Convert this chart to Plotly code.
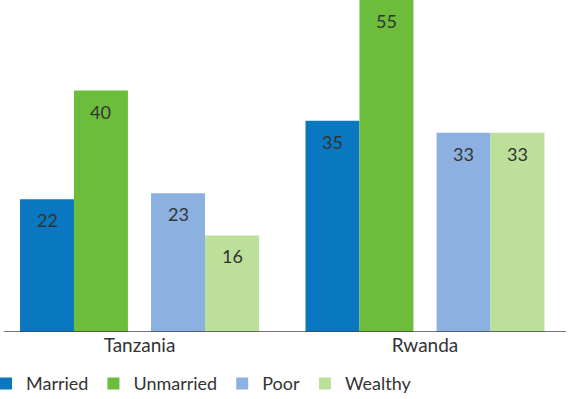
import plotly.graph_objects as go

countries = ["Tanzania", "Rwanda"]
series_names = ["Married", "Unmarried", "Poor", "Wealthy"]
married = [22, 35]
unmarried = [40, 55]
poor = [23, 33]
wealthy = [16, 33]
colors = ["#0a78c0", "#6cbd3c", "#8cb0df", "#bcdf9a"]

values = [married, unmarried, poor, wealthy]
offsets = [-0.324, -0.135, 0.135, 0.324]
bar_w = 0.189
group_x = list(range(len(countries)))

FONT = "Lato"
TXT = "#333333"

fig = go.Figure()
annotations = []
for name, vals, off, col in zip(series_names, values, offsets, colors):
    xs = [g + off for g in group_x]
    fig.add_trace(go.Bar(
        x=xs, y=vals, name=name, width=bar_w,
        marker=dict(color=col, line=dict(width=0)),
        hoverinfo="skip",
    ))
    for x, v in zip(xs, vals):
        annotations.append(dict(
            x=x, y=v, xref="x", yref="y", text=str(v), showarrow=False,
            yshift=-21, yanchor="middle",
            font=dict(family=FONT, size=18, color=TXT),
        ))

fig.update_layout(
    width=570, height=399,
    margin=dict(l=4, r=4, t=0, b=67, autoexpand=False),
    paper_bgcolor="white", plot_bgcolor="white",
    barmode="overlay",
    showlegend=True,
    legend=dict(orientation="h", x=-0.032, xanchor="left", y=-0.100, yanchor="top",
                font=dict(family=FONT, size=18, color=TXT), itemwidth=30,
                traceorder="normal"),
    annotations=annotations,
    xaxis=dict(range=[-0.4746, 1.4939], tickvals=group_x, ticktext=countries,
               showgrid=False, zeroline=False, showline=False, ticks="",
               tickfont=dict(family=FONT, size=19, color=TXT)),
    yaxis=dict(range=[0, 55], visible=False, showgrid=False, zeroline=False),
    shapes=[dict(type="line", xref="paper", yref="y", x0=0, x1=1, y0=0, y1=0,
                 line=dict(color="#444444", width=1.5))],
    font=dict(family=FONT, color=TXT),
)

fig.write_html("out.html", config={"displayModeBar": False},
               post_script="document.body.style.margin='0';document.body.style.overflow='hidden';")
